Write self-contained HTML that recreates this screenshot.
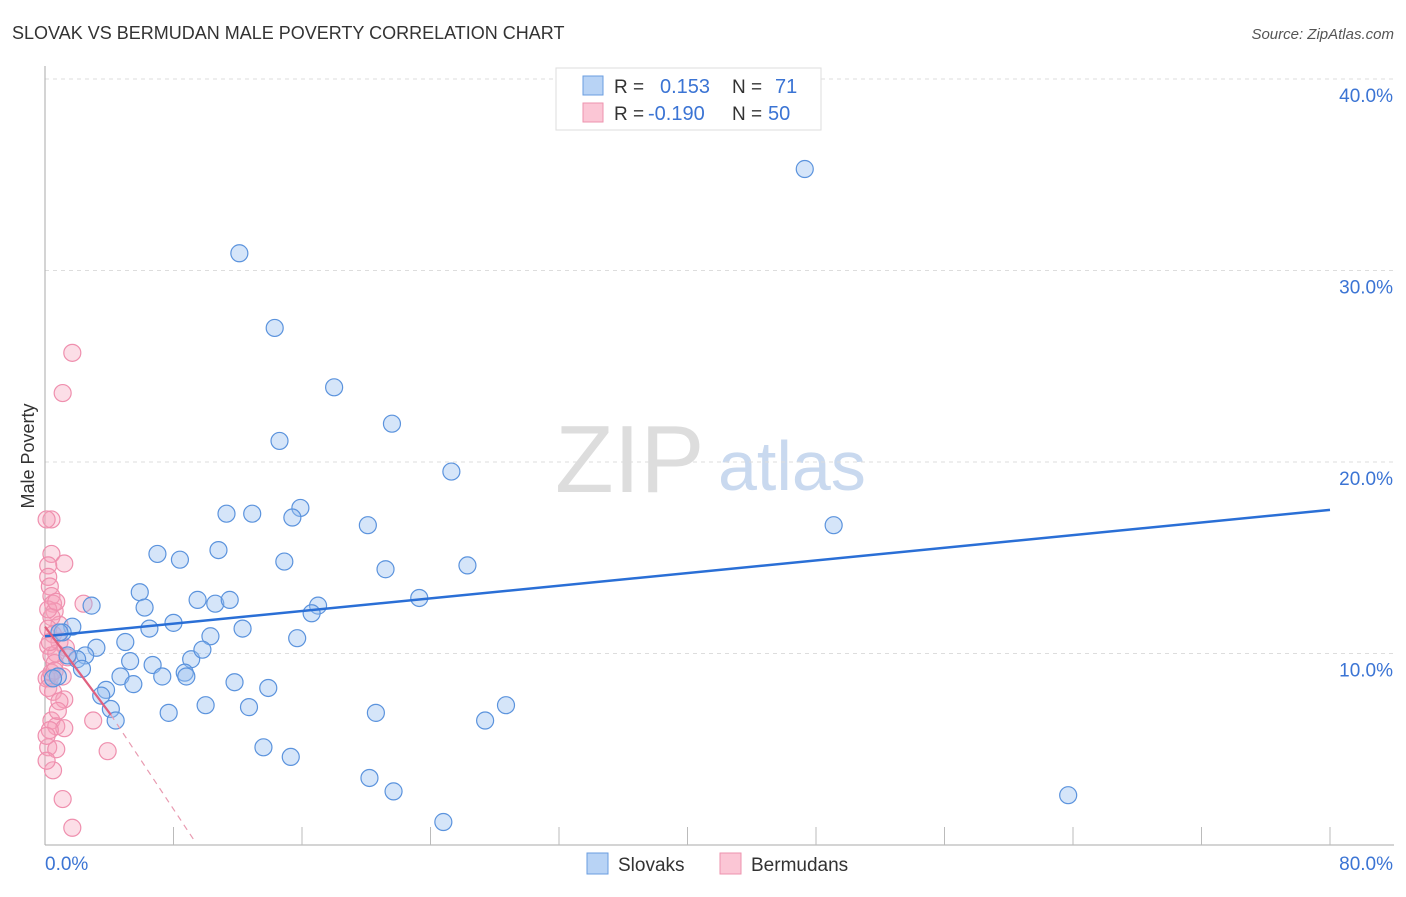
<!DOCTYPE html>
<html><head><meta charset="utf-8"><style>
body{margin:0;background:#fff;font-family:"Liberation Sans",sans-serif}
svg text{font-family:"Liberation Sans",sans-serif}
</style></head><body>
<svg id="chart" width="1406" height="892">
<text x="12" y="39" font-size="18" fill="#333">SLOVAK VS BERMUDAN MALE POVERTY CORRELATION CHART</text>
<text x="1394" y="39" font-size="15" fill="#555" font-style="italic" text-anchor="end">Source: ZipAtlas.com</text>
<text x="555" y="492" font-size="96" fill="#ddd" font-family="Liberation Serif">ZIP</text>
<text x="718" y="490" font-size="70" fill="#c9d9ef">atlas</text>
<g id="grid"></g><g id="axes"></g><g id="marks"></g>
<text x="34" y="456" font-size="18" fill="#333" text-anchor="middle" transform="rotate(-90 34 456)">Male Poverty</text>
<g>
<rect x="556" y="68" width="265" height="62" fill="#fff" stroke="#ddd"/>
<rect x="583" y="76" width="20" height="19" fill="#b8d3f5" stroke="#6a9ee0"/>
<rect x="583" y="103" width="20" height="19" fill="#fbc6d5" stroke="#ee93ae"/>
<text x="614" y="93" font-size="19" fill="#333">R =</text><text x="660" y="93" font-size="20" fill="#3b74d4">0.153</text>
<text x="732" y="93" font-size="19" fill="#333">N =</text><text x="775" y="93" font-size="20" fill="#3b74d4">71</text>
<text x="614" y="120" font-size="19" fill="#333">R =</text><text x="648" y="120" font-size="20" fill="#3b74d4">-0.190</text>
<text x="732" y="120" font-size="19" fill="#333">N =</text><text x="768" y="120" font-size="20" fill="#3b74d4">50</text>
</g>
<g>
<rect x="587" y="853" width="21" height="21" fill="#b8d3f5" stroke="#6a9ee0"/>
<text x="618" y="871" font-size="19" fill="#333">Slovaks</text>
<rect x="720" y="853" width="21" height="21" fill="#fbc6d5" stroke="#ee93ae"/>
<text x="751" y="871" font-size="19" fill="#333">Bermudans</text>
</g>
</svg>
<script>
const yTicks=[10,20,30,40];
const xTickLabels=["0.0%","80.0%"];
const slovakX=[47.3,12.1,14.3,18.0,21.6,14.6,25.3,49.1,11.3,12.9,15.9,15.4,20.1,7.0,8.4,10.8,14.9,21.2,26.3,5.9,2.9,6.2,9.5,10.6,11.5,23.3,17.0,16.6,6.5,8.0,12.3,10.3,15.7,1.7,1.1,5.0,3.2,2.5,2.0,1.4,5.3,6.7,9.1,9.8,2.3,8.7,8.8,7.3,4.7,11.8,13.9,5.5,3.8,3.5,0.8,0.5,4.1,7.7,10.0,12.7,4.4,20.6,27.4,28.7,13.6,15.3,20.2,21.7,24.8,63.7,0.9];
const slovakY=[35.3,30.9,27.0,23.9,22.0,21.1,19.5,16.7,17.3,17.3,17.6,17.1,16.7,15.2,14.9,15.4,14.8,14.4,14.6,13.2,12.5,12.4,12.8,12.6,12.8,12.9,12.5,12.1,11.3,11.6,11.3,10.9,10.8,11.4,11.1,10.6,10.3,9.9,9.7,9.9,9.6,9.4,9.7,10.2,9.2,9.0,8.8,8.8,8.8,8.5,8.2,8.4,8.1,7.8,8.8,8.7,7.1,6.9,7.3,7.2,6.5,6.9,6.5,7.3,5.1,4.6,3.5,2.8,1.2,2.6,11.1];
const bermudaX=[1.7,1.1,0.4,0.1,0.4,0.2,1.2,0.2,0.3,0.4,0.5,2.4,0.6,0.9,0.4,0.2,0.5,0.9,1.3,0.2,0.4,0.7,1.4,0.6,0.1,0.3,1.1,0.2,0.5,1.2,0.9,3.0,0.4,0.7,1.2,0.3,0.2,0.7,3.9,0.5,1.1,1.7,0.1,0.2,0.7,0.3,0.4,0.8,0.1,0.6];
const bermudaY=[25.7,23.6,17.0,17.0,15.2,14.6,14.7,14.0,13.5,13.0,12.6,12.6,12.2,11.5,11.9,11.3,11.0,10.6,10.3,10.4,9.9,10.0,9.8,9.5,8.7,8.7,8.8,8.2,8.0,7.6,7.5,6.5,6.5,6.2,6.1,6.0,5.1,5.0,4.9,3.9,2.4,0.9,4.4,12.3,12.7,10.6,9.0,7.0,5.7,9.1];
const X0=45,X1=1330,Y0=845,PX10=191.5;
const sx=v=>X0+(v/80)*(X1-X0), sy=v=>Y0-v/10*PX10;
const NS="http://www.w3.org/2000/svg";
function mk(t,p,a){const e=document.createElementNS(NS,t);for(const k in a)e.setAttribute(k,a[k]);p.appendChild(e);return e;}
const grid=document.getElementById('grid'),axes=document.getElementById('axes'),marks=document.getElementById('marks');
yTicks.forEach(v=>{
const l=mk('line',grid,{x1:X0,x2:1394,y1:sy(v),y2:sy(v),stroke:'#ddd','stroke-dasharray':'4,4'});


const t=mk('text',axes,{x:1393,y:sy(v)+23,'font-size':19,fill:'#3b74d4','text-anchor':'end'});t.textContent=v.toFixed(1)+'%';


});
const ya=mk('line',axes,{x1:X0,x2:X0,y1:66,y2:Y0,stroke:'#aaa'});


const xa=mk('line',axes,{x1:X0,x2:1394,y1:Y0,y2:Y0,stroke:'#aaa'});


for(let i=1;i<=10;i++){const t=mk('line',axes,{x1:sx(i*8),x2:sx(i*8),y1:Y0,y2:Y0-18,stroke:'#bbb'});

}
const xl0=mk('text',axes,{x:45,y:870,'font-size':19,fill:'#3b74d4'});xl0.textContent=xTickLabels[0];


const xl1=mk('text',axes,{x:1393,y:870,'font-size':19,fill:'#3b74d4','text-anchor':'end'});xl1.textContent=xTickLabels[1];


bermudaX.forEach((x,i)=>{const c=mk('circle',marks,{cx:sx(x),cy:sy(bermudaY[i]),r:8.5,fill:'rgba(246,160,186,0.35)',stroke:'#ef8fae','stroke-width':1.2});

});
slovakX.forEach((x,i)=>{const c=mk('circle',marks,{cx:sx(x),cy:sy(slovakY[i]),r:8.5,fill:'rgba(150,190,240,0.4)',stroke:'#5b93dd','stroke-width':1.2});

});
const bt=mk('line',marks,{x1:sx(0),y1:sy(10.9),x2:sx(80),y2:sy(17.5),stroke:'#2a6fd6','stroke-width':2.5});


const pt=mk('line',marks,{x1:sx(0),y1:sy(11.4),x2:sx(4.1),y2:sy(6.8),stroke:'#e0607f','stroke-width':2.2});


const pd=mk('line',marks,{x1:sx(4.1),y1:sy(6.8),x2:sx(9.4),y2:sy(0.1),stroke:'#e89ab0','stroke-width':1.2,'stroke-dasharray':'6,5'});


</script>
</body></html>
